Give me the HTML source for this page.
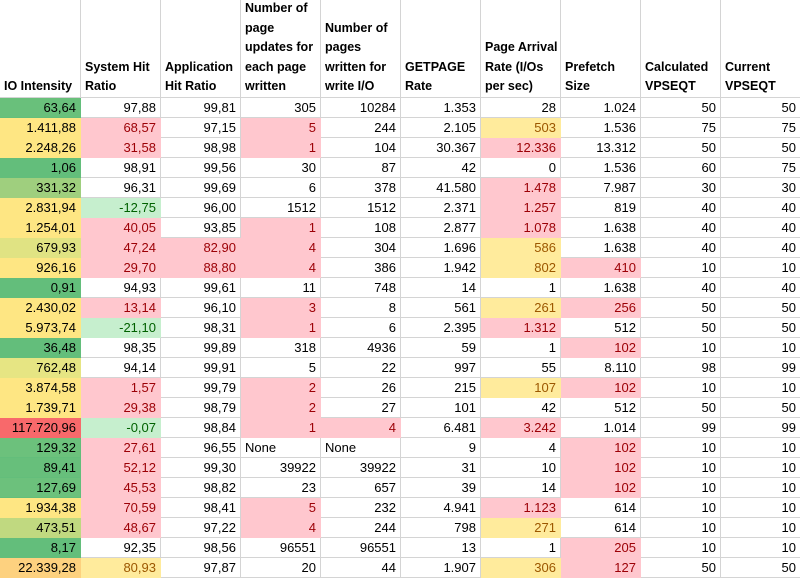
<!DOCTYPE html>
<html><head><meta charset="utf-8"><style>
html,body{margin:0;padding:0;background:#fff;width:800px;height:581px;overflow:hidden}
table{border-collapse:collapse;table-layout:fixed;width:801px;font-family:"Liberation Sans",Arial,sans-serif;font-size:13px;color:#000;margin-left:-1px;margin-top:-2px}
td{border:1px solid #d4d4d4;height:19px;line-height:19px;padding:0 4px 0 2px;text-align:right;white-space:nowrap;overflow:hidden}
th{border:1px solid #d4d4d4;height:94px;vertical-align:bottom;text-align:left;font-weight:bold;line-height:19.6px;padding:0 1px 0 4px;font-size:12.5px;white-space:nowrap;overflow:hidden}
td.l{text-align:left;padding-left:4px}
.p{background:#ffc7ce;color:#9c0006;border-color:#ffc7ce}
.lg{background:#c6efce;color:#006100;border-color:#c6efce}
.y{background:#ffeb9c;color:#9c5700;border-color:#ffeb9c}
.G{background:#63be7b;border-color:#63be7b}
.Y{background:#fee683;border-color:#fee683}
.R{background:#f8696b;border-color:#f8696b}
</style></head><body>
<table>
<colgroup><col style="width:81px"><col style="width:80px"><col style="width:80px"><col style="width:80px"><col style="width:80px"><col style="width:80px"><col style="width:80px"><col style="width:80px"><col style="width:80px"><col style="width:80px"></colgroup>
<tr><th>IO Intensity</th><th>System Hit<br>Ratio</th><th>Application<br>Hit Ratio</th><th>Number of<br>page<br>updates for<br>each page<br>written</th><th>Number of<br>pages<br>written for<br>write I/O</th><th>GETPAGE<br>Rate</th><th>Page Arrival<br>Rate (I/Os<br>per sec)</th><th>Prefetch<br>Size</th><th>Calculated<br>VPSEQT</th><th>Current<br>VPSEQT</th></tr>
<tr><td class="G" style="background:#69c07b">63,64</td><td>97,88</td><td>99,81</td><td>305</td><td>10284</td><td>1.353</td><td>28</td><td>1.024</td><td>50</td><td>50</td></tr>
<tr><td class="Y">1.411,88</td><td class="p">68,57</td><td>97,15</td><td class="p">5</td><td>244</td><td>2.105</td><td class="y">503</td><td>1.536</td><td>75</td><td>75</td></tr>
<tr><td class="Y">2.248,26</td><td class="p">31,58</td><td>98,98</td><td class="p">1</td><td>104</td><td>30.367</td><td class="p">12.336</td><td>13.312</td><td>50</td><td>50</td></tr>
<tr><td class="G">1,06</td><td>98,91</td><td>99,56</td><td>30</td><td>87</td><td>42</td><td>0</td><td>1.536</td><td>60</td><td>75</td></tr>
<tr><td style="background:#9fcf7e;border-color:#9fcf7e">331,32</td><td>96,31</td><td>99,69</td><td>6</td><td>378</td><td>41.580</td><td class="p">1.478</td><td>7.987</td><td>30</td><td>30</td></tr>
<tr><td class="Y">2.831,94</td><td class="lg">-12,75</td><td>96,00</td><td>1512</td><td>1512</td><td>2.371</td><td class="p">1.257</td><td>819</td><td>40</td><td>40</td></tr>
<tr><td class="Y">1.254,01</td><td class="p">40,05</td><td>93,85</td><td class="p">1</td><td>108</td><td>2.877</td><td class="p">1.078</td><td>1.638</td><td>40</td><td>40</td></tr>
<tr><td style="background:#e0e383;border-color:#e0e383">679,93</td><td class="p">47,24</td><td class="p">82,90</td><td class="p">4</td><td>304</td><td>1.696</td><td class="y">586</td><td>1.638</td><td>40</td><td>40</td></tr>
<tr><td class="Y">926,16</td><td class="p">29,70</td><td class="p">88,80</td><td class="p">4</td><td>386</td><td>1.942</td><td class="y">802</td><td class="p">410</td><td>10</td><td>10</td></tr>
<tr><td class="G">0,91</td><td>94,93</td><td>99,61</td><td>11</td><td>748</td><td>14</td><td>1</td><td>1.638</td><td>40</td><td>40</td></tr>
<tr><td class="Y">2.430,02</td><td class="p">13,14</td><td>96,10</td><td class="p">3</td><td>8</td><td>561</td><td class="y">261</td><td class="p">256</td><td>50</td><td>50</td></tr>
<tr><td class="Y">5.973,74</td><td class="lg">-21,10</td><td>98,31</td><td class="p">1</td><td>6</td><td>2.395</td><td class="p">1.312</td><td>512</td><td>50</td><td>50</td></tr>
<tr><td class="G">36,48</td><td>98,35</td><td>99,89</td><td>318</td><td>4936</td><td>59</td><td>1</td><td class="p">102</td><td>10</td><td>10</td></tr>
<tr><td style="background:#e6e583;border-color:#e6e583">762,48</td><td>94,14</td><td>99,91</td><td>5</td><td>22</td><td>997</td><td>55</td><td>8.110</td><td>98</td><td>99</td></tr>
<tr><td class="Y">3.874,58</td><td class="p">1,57</td><td>99,79</td><td class="p">2</td><td>26</td><td>215</td><td class="y">107</td><td class="p">102</td><td>10</td><td>10</td></tr>
<tr><td class="Y">1.739,71</td><td class="p">29,38</td><td>98,79</td><td class="p">2</td><td>27</td><td>101</td><td>42</td><td>512</td><td>50</td><td>50</td></tr>
<tr><td class="R">117.720,96</td><td class="lg">-0,07</td><td>98,84</td><td class="p">1</td><td class="p">4</td><td>6.481</td><td class="p">3.242</td><td>1.014</td><td>99</td><td>99</td></tr>
<tr><td class="G" style="background:#6cc17c">129,32</td><td class="p">27,61</td><td>96,55</td><td class="l">None</td><td class="l">None</td><td>9</td><td>4</td><td class="p">102</td><td>10</td><td>10</td></tr>
<tr><td class="G" style="background:#67bf7b">89,41</td><td class="p">52,12</td><td>99,30</td><td>39922</td><td>39922</td><td>31</td><td>10</td><td class="p">102</td><td>10</td><td>10</td></tr>
<tr><td class="G" style="background:#6cc17c">127,69</td><td class="p">45,53</td><td>98,82</td><td>23</td><td>657</td><td>39</td><td>14</td><td class="p">102</td><td>10</td><td>10</td></tr>
<tr><td class="Y">1.934,38</td><td class="p">70,59</td><td>98,41</td><td class="p">5</td><td>232</td><td>4.941</td><td class="p">1.123</td><td>614</td><td>10</td><td>10</td></tr>
<tr><td style="background:#c0d980;border-color:#c0d980">473,51</td><td class="p">48,67</td><td>97,22</td><td class="p">4</td><td>244</td><td>798</td><td class="y">271</td><td>614</td><td>10</td><td>10</td></tr>
<tr><td class="G">8,17</td><td>92,35</td><td>98,56</td><td>96551</td><td>96551</td><td>13</td><td>1</td><td class="p">205</td><td>10</td><td>10</td></tr>
<tr><td style="background:#fdd17f;border-color:#fdd17f">22.339,28</td><td class="y">80,93</td><td>97,87</td><td>20</td><td>44</td><td>1.907</td><td class="y">306</td><td class="p">127</td><td>50</td><td>50</td></tr>
</table>
</body></html>
